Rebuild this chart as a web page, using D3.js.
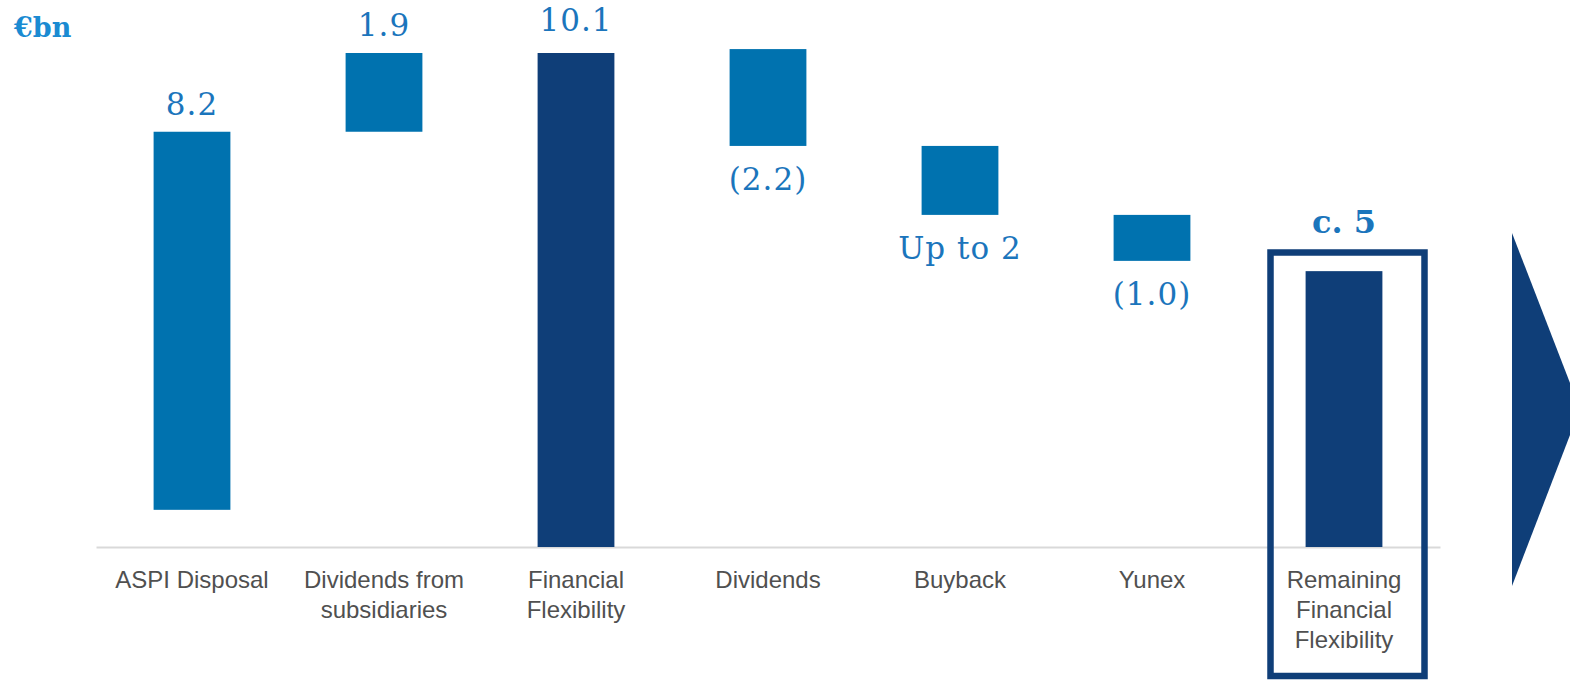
<!DOCTYPE html>
<html>
<head>
<meta charset="utf-8">
<script src="https://cdn.jsdelivr.net/npm/d3@7"></script>
<style>
  html, body { margin: 0; padding: 0; background: #ffffff; }
  svg { display: block; }
</style>
</head>
<body>
<svg id="chart" width="1570" height="680"></svg>
<script>
// ---- data ----
const categories = ["ASPI Disposal", "Dividends from subsidiaries", "Financial Flexibility", "Dividends", "Buyback", "Yunex", "Remaining Financial Flexibility"];
const categoryLines = [["ASPI Disposal"], ["Dividends from", "subsidiaries"], ["Financial", "Flexibility"], ["Dividends"], ["Buyback"], ["Yunex"], ["Remaining", "Financial", "Flexibility"]];
const valueLabels = ["8.2", "1.9", "10.1", "(2.2)", "Up to 2", "(1.0)", "c. 5"];
// bar extents in €bn as drawn in the picture
const barLow  = [0.76, 8.49, 0, 8.20, 6.79, 5.85, 0];
const barHigh = [8.49, 10.1, 10.1, 10.18, 8.20, 6.79, 5.64];
const barType = ["increase", "increase", "total", "decrease", "decrease", "decrease", "total"];
const highlighted = [false, false, false, false, false, false, true];
const unitLabel = "€bn";

// ---- drawing ----
const svg = d3.select("#chart");
const lightBlue = "#0072AF";
const navy = "#0F3E78";
const labelBlue = "#1B75BC";

const x = d3.scaleBand().domain(categories).range([96, 1440]).paddingInner(0.6).paddingOuter(0.3);
const y = d3.scaleLinear().domain([0, 10.1]).range([547, 53]);

const data = categories.map((c, i) => ({
  cat: c, lines: categoryLines[i], label: valueLabels[i],
  low: barLow[i], high: barHigh[i], type: barType[i], hl: highlighted[i]
}));

// axis baseline
const axis = d3.axisBottom(x).tickSize(0).tickFormat("");
const gAxis = svg.append("g").attr("transform", `translate(0,${y(0)})`).call(axis);
gAxis.select(".domain").attr("stroke", "#D9D9D9").attr("stroke-width", 2);

// bars
svg.append("g").selectAll("rect").data(data).join("rect")
  .attr("x", d => x(d.cat))
  .attr("width", x.bandwidth())
  .attr("y", d => y(d.high))
  .attr("height", d => y(d.low) - y(d.high))
  .attr("fill", d => d.type === "total" ? navy : lightBlue);

// highlight box
const boxTop = 252.5;
data.filter(d => d.hl).forEach(d => {
  const cx = x(d.cat) + x.bandwidth() / 2;
  svg.append("rect")
    .attr("x", cx - 73.5).attr("y", boxTop)
    .attr("width", 154).attr("height", 676 - boxTop)
    .attr("fill", "none").attr("stroke", navy).attr("stroke-width", 6.5);
});

// value labels
svg.append("g").selectAll("text").data(data).join("text")
  .attr("x", d => x(d.cat) + x.bandwidth() / 2)
  .attr("y", d => {
    if (d.hl) return boxTop - 20;
    if (d.type === "decrease") return y(d.low) + 44;
    if (d.type === "total") return y(d.high) - 22;
    return y(d.high) - 17;
  })
  .attr("text-anchor", "middle")
  .attr("font-family", "'DejaVu Serif', serif")
  .attr("font-size", d => d.hl ? 32 : 31)
  .attr("font-weight", d => d.hl ? "bold" : "normal")
  .attr("letter-spacing", d => d.hl ? 0 : 1)
  .attr("fill", labelBlue)
  .text(d => d.label);

// category labels
const catG = svg.append("g");
data.forEach(d => {
  const t = catG.append("text")
    .attr("x", x(d.cat) + x.bandwidth() / 2)
    .attr("y", 588)
    .attr("text-anchor", "middle")
    .attr("font-family", "'Liberation Sans', Arial, sans-serif")
    .attr("font-size", 24)
    .attr("fill", "#505050");
  d.lines.forEach((ln, j) => {
    t.append("tspan").attr("x", x(d.cat) + x.bandwidth() / 2).attr("y", 588 + j * 30).text(ln);
  });
});

// unit label
svg.append("text")
  .attr("x", 14).attr("y", 37)
  .attr("font-family", "'DejaVu Serif', serif")
  .attr("font-weight", "bold")
  .attr("font-size", 27)
  .attr("fill", "#1A8BD2")
  .text(unitLabel);

// arrow on the right
svg.append("path")
  .attr("d", d3.line()([[1512, 233], [1580, 409], [1512, 586]]) + "Z")
  .attr("fill", navy);
</script>
</body>
</html>
